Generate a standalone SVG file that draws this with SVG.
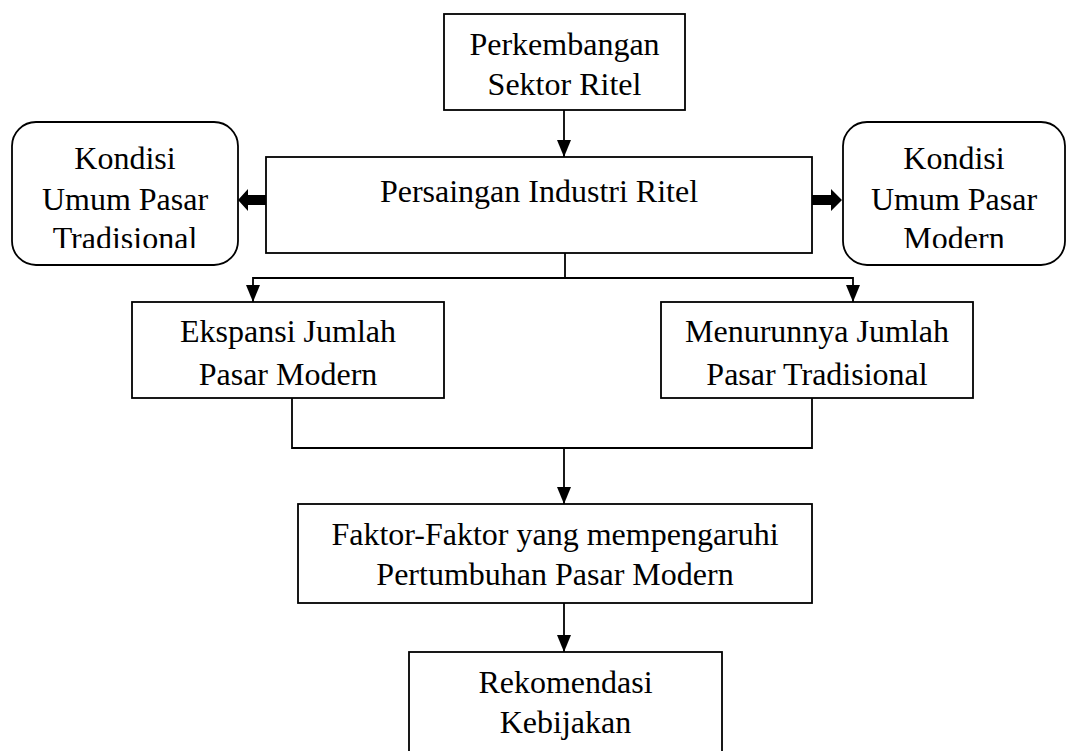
<svg xmlns="http://www.w3.org/2000/svg" width="1067" height="751" viewBox="0 0 1067 751">
<style>
.box{fill:#fff;stroke:#000;stroke-width:1.8}
.t{font-family:"Liberation Serif","Times New Roman",serif;font-size:32px;fill:#000;text-anchor:middle}
.c{fill:none;stroke:#000;stroke-width:1.8}
.thick{fill:#000;stroke:none}
</style>
<defs>
<marker id="ah" markerUnits="userSpaceOnUse" markerWidth="17" markerHeight="14" refX="17" refY="7" orient="auto">
<path d="M0,0 L17,7 L0,14 z" fill="#000"/>
</marker>
<clipPath id="clipL"><rect x="12" y="122" width="226" height="126"/></clipPath>
<clipPath id="clipR"><rect x="843" y="122" width="222" height="126"/></clipPath>
</defs>
<rect width="1067" height="751" fill="#fff"/>

<g id="connectors">
<line class="c" x1="564" y1="110" x2="564" y2="157" marker-end="url(#ah)"/>
<polyline class="c" points="565,253 565,278"/>
<polyline class="c" points="565,278 253,278 253,302" marker-end="url(#ah)"/>
<polyline class="c" points="565,278 853,278 853,302" marker-end="url(#ah)"/>
<polyline class="c" points="292,398 292,448 812,448 812,398"/>
<line class="c" x1="564" y1="448" x2="564" y2="504" marker-end="url(#ah)"/>
<line class="c" x1="564" y1="603" x2="564" y2="652" marker-end="url(#ah)"/>
<polygon class="thick" points="266,195 248,195 248,189 238,200 248,211 248,205 266,205"/>
<polygon class="thick" points="812,195 831,195 831,189 842,200 831,211 831,205 812,205"/>
</g>

<g id="n-perkembangan">
<rect class="box" x="444" y="14" width="241" height="96"/>
<text class="t" x="564.5" y="55">Perkembangan</text>
<text class="t" x="564.5" y="95">Sektor Ritel</text>
</g>

<g id="n-persaingan">
<rect class="box" x="266" y="157" width="546" height="96"/>
<text class="t" x="539" y="202">Persaingan Industri Ritel</text>
</g>

<g id="n-kondisi-tradisional">
<rect class="box" x="12" y="122" width="226" height="143" rx="24" ry="24"/>
<g clip-path="url(#clipL)">
<text class="t" x="125" y="169">Kondisi</text>
<text class="t" x="125" y="210">Umum Pasar</text>
<text class="t" x="125" y="249">Tradisional</text>
</g>
</g>

<g id="n-kondisi-modern">
<rect class="box" x="843" y="122" width="222" height="143" rx="24" ry="24"/>
<g clip-path="url(#clipR)">
<text class="t" x="954" y="169">Kondisi</text>
<text class="t" x="954" y="210">Umum Pasar</text>
<text class="t" x="954" y="249">Modern</text>
</g>
</g>

<g id="n-ekspansi">
<rect class="box" x="132" y="302" width="312" height="96"/>
<text class="t" x="288" y="342">Ekspansi Jumlah</text>
<text class="t" x="288" y="385">Pasar Modern</text>
</g>

<g id="n-menurunnya">
<rect class="box" x="661" y="302" width="312" height="96"/>
<text class="t" x="817" y="342">Menurunnya Jumlah</text>
<text class="t" x="817" y="385">Pasar Tradisional</text>
</g>

<g id="n-faktor">
<rect class="box" x="298" y="504" width="514" height="99"/>
<text class="t" x="555" y="545">Faktor-Faktor yang mempengaruhi</text>
<text class="t" x="555" y="585">Pertumbuhan Pasar Modern</text>
</g>

<g id="n-rekomendasi">
<rect class="box" x="409" y="652" width="313" height="110"/>
<text class="t" x="565.5" y="693">Rekomendasi</text>
<text class="t" x="565.5" y="733">Kebijakan</text>
</g>
</svg>
